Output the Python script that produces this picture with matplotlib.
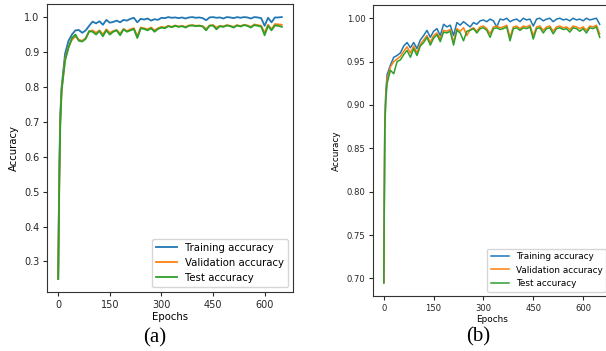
import matplotlib
matplotlib.use("Agg")
import matplotlib.pyplot as plt

epochs = [0, 3, 6, 10] + list(range(20, 651, 10))

train_a = [0.25, 0.55, 0.72, 0.80, 0.895, 0.932, 0.950, 0.962, 0.963, 0.955,
           0.962, 0.975, 0.987, 0.982, 0.988, 0.978, 0.992, 0.984, 0.986, 0.990,
           0.985, 0.992, 0.990, 0.995, 0.998, 0.985, 0.995, 0.993, 0.996, 0.990,
           0.994, 0.992, 0.998, 0.997, 1.000, 0.998, 0.999, 0.997, 0.999, 0.996,
           0.999, 1.000, 0.998, 0.999, 0.997, 0.991, 0.999, 1.000, 0.998, 0.999,
           0.996, 1.000, 0.999, 0.997, 1.000, 0.998, 1.000, 0.999, 0.996, 1.000,
           0.999, 0.997, 0.975, 0.998, 0.985, 0.999, 0.999, 1.000]
val_a = [0.25, 0.52, 0.70, 0.79, 0.88, 0.915, 0.935, 0.945, 0.935, 0.932,
         0.940, 0.958, 0.962, 0.955, 0.962, 0.950, 0.965, 0.955, 0.960, 0.963,
         0.952, 0.966, 0.960, 0.965, 0.968, 0.945, 0.970, 0.968, 0.965, 0.970,
         0.962, 0.968, 0.972, 0.970, 0.975, 0.972, 0.976, 0.973, 0.975, 0.972,
         0.976, 0.977, 0.975, 0.976, 0.974, 0.966, 0.976, 0.977, 0.970, 0.975,
         0.973, 0.977, 0.975, 0.972, 0.977, 0.974, 0.978, 0.976, 0.972, 0.979,
         0.977, 0.975, 0.955, 0.978, 0.965, 0.980, 0.979, 0.978]
test_a = [0.25, 0.50, 0.69, 0.79, 0.875, 0.912, 0.940, 0.950, 0.932, 0.930,
          0.938, 0.960, 0.958, 0.950, 0.960, 0.945, 0.962, 0.950, 0.958, 0.962,
          0.948, 0.965, 0.958, 0.962, 0.966, 0.940, 0.968, 0.966, 0.962, 0.968,
          0.958, 0.966, 0.970, 0.968, 0.974, 0.971, 0.975, 0.972, 0.974, 0.970,
          0.975, 0.976, 0.974, 0.975, 0.973, 0.962, 0.975, 0.976, 0.965, 0.974,
          0.972, 0.976, 0.974, 0.970, 0.976, 0.973, 0.977, 0.975, 0.970, 0.977,
          0.975, 0.973, 0.948, 0.975, 0.962, 0.976, 0.975, 0.972]

train_b = [0.695, 0.88, 0.915, 0.935, 0.946, 0.955, 0.957, 0.960, 0.968, 0.972,
           0.966, 0.972, 0.965, 0.975, 0.980, 0.986, 0.978, 0.985, 0.988, 0.980,
           0.993, 0.990, 0.992, 0.980, 0.995, 0.992, 0.996, 0.993, 0.990, 0.995,
           0.993, 0.997, 0.998, 0.996, 0.999, 0.997, 0.990, 0.999, 0.998, 1.000,
           0.996, 0.998, 0.999, 0.996, 1.000, 0.998, 0.999, 0.991, 0.999, 1.000,
           0.997, 0.999, 1.000, 0.996, 0.999, 1.000, 0.998, 0.999, 0.997, 1.000,
           0.998, 0.999, 0.997, 1.000, 0.998, 0.999, 1.000, 0.993]
val_b = [0.695, 0.875, 0.91, 0.93, 0.944, 0.950, 0.953, 0.956, 0.962, 0.967,
         0.960, 0.968, 0.960, 0.970, 0.975, 0.980, 0.972, 0.980, 0.983, 0.976,
         0.986, 0.985, 0.987, 0.972, 0.988, 0.985, 0.989, 0.980, 0.987, 0.989,
         0.985, 0.990, 0.991, 0.988, 0.982, 0.990, 0.991, 0.989, 0.990, 0.992,
         0.978, 0.990, 0.991, 0.988, 0.991, 0.990, 0.992, 0.980, 0.990, 0.991,
         0.986, 0.990, 0.991, 0.985, 0.990, 0.991, 0.989, 0.990, 0.987, 0.991,
         0.990, 0.988, 0.990, 0.986, 0.991, 0.990, 0.992, 0.982]
test_b = [0.695, 0.87, 0.905, 0.925, 0.940, 0.936, 0.950, 0.952, 0.958, 0.963,
          0.955, 0.965, 0.957, 0.968, 0.972, 0.978, 0.969, 0.977, 0.981, 0.973,
          0.984, 0.983, 0.985, 0.969, 0.986, 0.983, 0.974, 0.985, 0.986, 0.988,
          0.983, 0.988, 0.989, 0.986, 0.978, 0.988, 0.989, 0.987, 0.988, 0.990,
          0.974, 0.988, 0.989, 0.986, 0.989, 0.988, 0.990, 0.976, 0.988, 0.989,
          0.983, 0.988, 0.989, 0.982, 0.988, 0.989, 0.987, 0.988, 0.984, 0.989,
          0.988, 0.985, 0.988, 0.983, 0.989, 0.988, 0.990, 0.978]

labels = ["Training accuracy", "Validation accuracy", "Test accuracy"]
xticks = [0, 150, 300, 450, 600]
yticks_a = [0.3, 0.4, 0.5, 0.6, 0.7, 0.8, 0.9, 1.0]
yticks_b = [0.70, 0.75, 0.80, 0.85, 0.90, 0.95, 1.00]

W, H = 606, 351
fig = plt.figure(figsize=(W / 100, H / 100), dpi=100)

ax_a = fig.add_axes([47 / W, (H - 292) / H, 246 / W, 288 / H])
ax_b = fig.add_axes([373 / W, (H - 296) / H, 237.5 / W, 291 / H])


def draw(ax, series, yticks, yfmt, fs, tfs, lw):
    for s, lab in zip(series, labels):
        ax.plot(epochs, s, label=lab, lw=lw)
    ax.set_xticks(xticks)
    ax.set_yticks(yticks)
    ax.set_yticklabels([yfmt.format(v) for v in yticks])
    ax.tick_params(labelsize=tfs, length=3, width=0.8, pad=2.5, colors="#262626")
    ax.set_xlabel("Epochs", fontsize=fs, labelpad=1.5)
    ax.set_ylabel("Accuracy", fontsize=fs, labelpad=4)
    for sp in ax.spines.values():
        sp.set_color("#333333")
    ax.legend(loc="lower right", fontsize=fs, borderaxespad=0.5)


draw(ax_a, [train_a, val_a, test_a], yticks_a, "{:.1f}", 7.3, 7.0, 1.3)
draw(ax_b, [train_b, val_b, test_b], yticks_b, "{:.2f}", 6.4, 6.1, 1.1)

fig.text(155 / W, 1 - 338 / H, "(a)", ha="center", va="center",
         fontsize=15, family="Liberation Serif")
fig.text(478 / W, 1 - 337 / H, "(b)", ha="center", va="center",
         fontsize=15, family="Liberation Serif")

fig.savefig("out.png", dpi=100)
